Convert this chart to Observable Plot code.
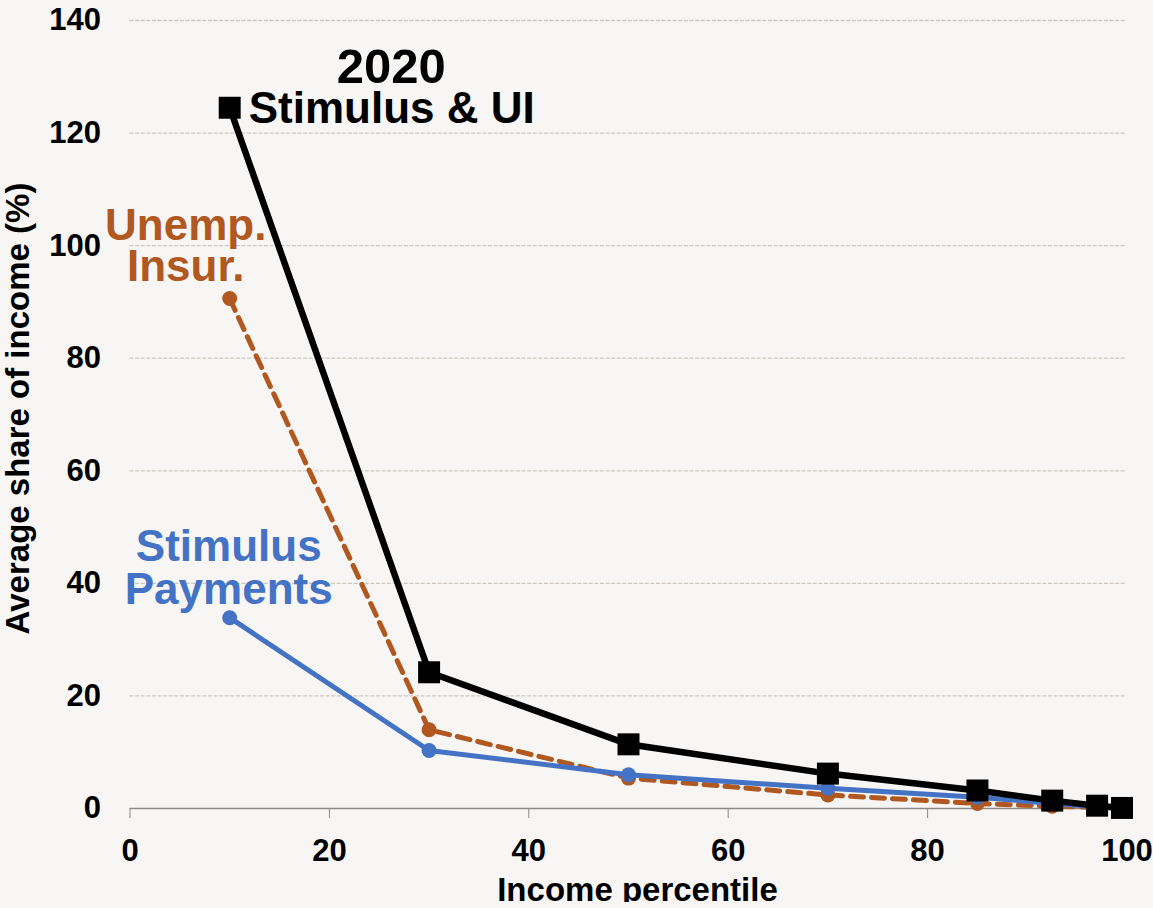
<!DOCTYPE html>
<html>
<head>
<meta charset="utf-8">
<script src="https://cdn.jsdelivr.net/npm/d3@7"></script>
<script src="https://cdn.jsdelivr.net/npm/@observablehq/plot@0.6"></script>
<style>
  html, body { margin: 0; padding: 0; background: #f7f6f4; }
  #chart svg { display: block; }
</style>
</head>
<body>
<div id="chart"></div>
<script>
// ---- data ----
const percentiles = [10, 30, 50, 70, 85, 92.5, 97, 99.5];
const stimulusAndUI = [124.5, 24.2, 11.4, 6.2, 3.2, 1.4, 0.5, 0.1];
const unempInsur = [90.6, 14.0, 5.4, 2.4, 0.9, 0.4, 0.2, 0.05];
const stimulusPayments = [33.9, 10.3, 6.0, 3.6, 2.0, 0.9, 0.3, 0.1];
const xTicks = [0, 20, 40, 60, 80, 100];
const yTicks = [0, 20, 40, 60, 80, 100, 120, 140];
const gridTicks = [20, 40, 60, 80, 100, 120, 140];
const yearLabel = "2020";
const seriesLabels = {
  total: "Stimulus & UI",
  ui: "Unemp.\nInsur.",
  stim: "Stimulus\nPayments"
};
const xTitle = "Income percentile";
const yTitle = "Average share of income (%)";

const BLACK = "#000000", ORANGE = "#b0581f", BLUE = "#4472c4";
const FONT = "'Liberation Sans', Arial, sans-serif";

const rows = (vals) => percentiles.map((p, i) => ({x: p, y: vals[i]}));
const totalRows = rows(stimulusAndUI);
const uiRows = rows(unempInsur);
const stimRows = rows(stimulusPayments);

const chart = Plot.plot({
  width: 1153,
  height: 902,
  marginLeft: 129.5,
  marginRight: 26.5,
  marginTop: 20,
  marginBottom: 94,
  style: {background: "#f7f6f4", fontFamily: FONT, color: "#000"},
  x: {domain: [0, 100]},
  y: {domain: [0, 140]},
  marks: [
    Plot.ruleY(gridTicks, {stroke: "#cfc8c1", strokeWidth: 1.3, strokeDasharray: "4,1.6"}),
    Plot.ruleY([0], {stroke: "#8a8a8a", strokeWidth: 1.5}),
    Plot.axisX({ticks: xTicks, tickSize: 10, tickPadding: 20, stroke: "#8a8a8a", fill: "#000",
      fontSize: 31, fontWeight: "bold", label: null, tickFormat: d => String(d)}),
    Plot.axisY({ticks: yTicks, tickSize: 0, tickPadding: 29, fill: "#000",
      fontSize: 31, fontWeight: "bold", label: null, tickFormat: d => String(d)}),
    // axis titles
    Plot.text([xTitle], {frameAnchor: "bottom", textAnchor: "middle", lineAnchor: "top", dy: 69, dx: 9,
      fontSize: 33, fontWeight: "bold", fill: "#000"}),
    Plot.text([yTitle], {frameAnchor: "left", textAnchor: "middle", rotate: -90, lineAnchor: "middle",
      dx: -111.5, dy: -6, fontSize: 33, fontWeight: "bold", fill: "#000"}),
    // series
    Plot.line(uiRows, {x: "x", y: "y", stroke: ORANGE, strokeWidth: 5, strokeDasharray: "13,8"}),
    Plot.dot(uiRows, {x: "x", y: "y", r: 7.5, fill: ORANGE, stroke: null}),
    Plot.line(stimRows, {x: "x", y: "y", stroke: BLUE, strokeWidth: 5}),
    Plot.dot(stimRows, {x: "x", y: "y", r: 7.5, fill: BLUE, stroke: null}),
    Plot.line(totalRows, {x: "x", y: "y", stroke: BLACK, strokeWidth: 6.5}),
    Plot.dot(totalRows, {x: "x", y: "y", r: 12.4, symbol: "square", fill: BLACK, stroke: null}),
    // labels anchored to the first point of each series
    Plot.text([totalRows[0]], {x: "x", y: "y", text: () => yearLabel, textAnchor: "middle",
      lineAnchor: "bottom", dx: 161.5, dy: -25, fontSize: 49, fontWeight: "bold", fill: BLACK}),
    Plot.text([totalRows[0]], {x: "x", y: "y", text: () => seriesLabels.total, textAnchor: "start",
      lineAnchor: "bottom", dx: 19, dy: 15, fontSize: 44, fontWeight: "bold", fill: BLACK}),
    Plot.text([uiRows[0]], {x: "x", y: "y", text: () => seriesLabels.ui, textAnchor: "middle",
      lineAnchor: "bottom", lineHeight: 0.93, dx: -44, dy: -18, fontSize: 44, fontWeight: "bold", fill: ORANGE}),
    Plot.text([stimRows[0]], {x: "x", y: "y", text: () => seriesLabels.stim, textAnchor: "middle",
      lineAnchor: "bottom", lineHeight: 0.98, dx: -1, dy: -14, fontSize: 44, fontWeight: "bold", fill: BLUE})
  ]
});
document.getElementById("chart").appendChild(chart);
</script>
</body>
</html>
